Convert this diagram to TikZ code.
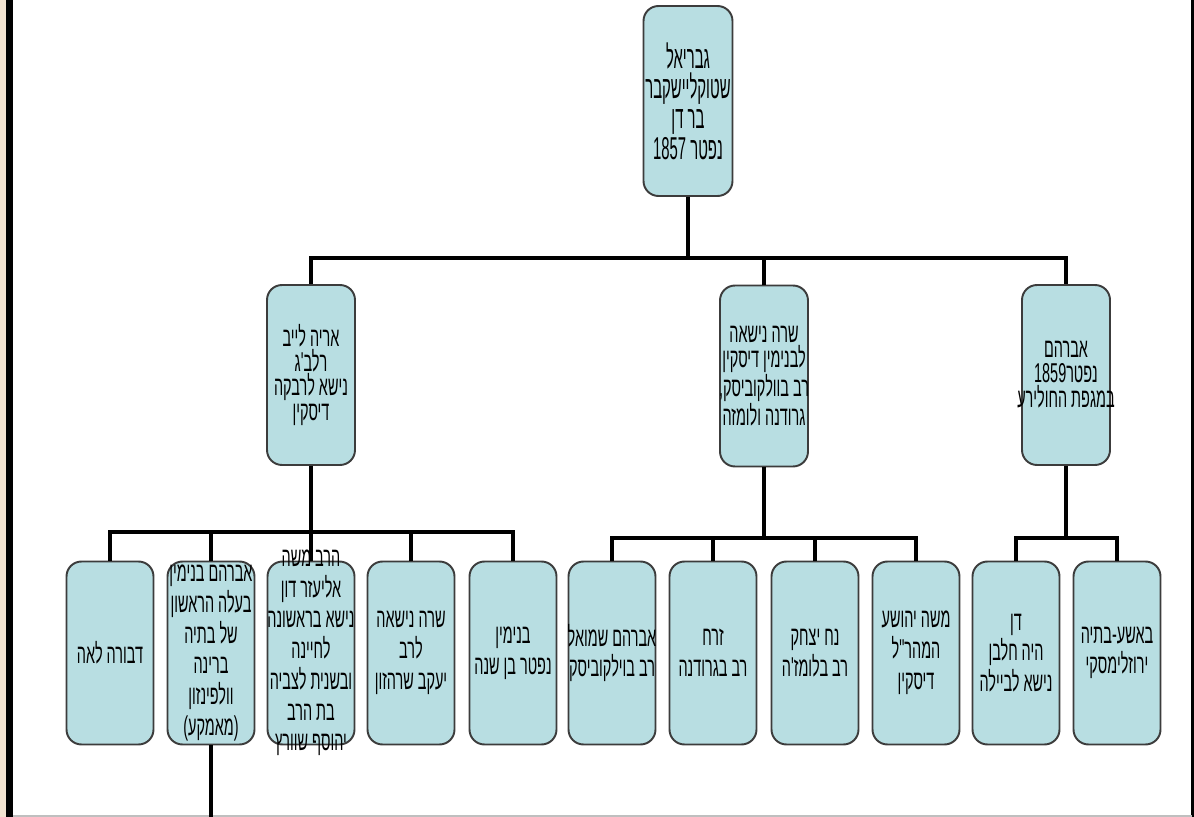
\documentclass[tikz,border=0pt]{standalone}
\usepackage{fontspec}
\usepackage{tikz}
\newfontfamily\hebfont[Script=Hebrew,FakeStretch=0.53]{Liberation Sans}
\newfontfamily\hebtopfont[Script=Hebrew,FakeStretch=0.47]{Liberation Sans}
\TeXXeTstate=1
\newcommand{\heb}[1]{\beginR #1\endR}
\definecolor{boxfill}{RGB}{184,222,226}
\definecolor{boxline}{RGB}{60,60,60}
\definecolor{sidebeige}{RGB}{242,227,208}
\tikzset{
    member/.style={draw=boxline, line width=1.1pt, fill=boxfill, rounded corners=8.5pt,
        minimum width=1.74cm, minimum height=3.66cm, inner sep=0pt},
    names/.style={align=center, inner sep=0pt, font=\hebfont\fontsize{15.5}{17.5}\selectfont},
    midnames/.style={names, font=\hebfont\fontsize{15.5}{14.2}\selectfont},
    topnames/.style={names, font=\hebtopfont\fontsize{18}{17.2}\selectfont},
    bus/.style={line width=2.3pt}
}

\begin{document}
\begin{tikzpicture}[x=0.02cm, y=-0.02cm]
    \useasboundingbox (0,0) rectangle (1194,817);
    \fill[sidebeige] (0,0) rectangle (7,817);
    \fill[black] (6,0) rectangle (13,817);
    \draw[line width=1.2pt] (1192.5,0) -- (1192.5,817);
    \draw[black!25, line width=0.8pt] (13,816) -- (1192,816);

    \node[member, minimum width=1.78cm, minimum height=3.8cm] (gavriel) at (688,101) {};
    \node[topnames] (gavrielt) at (gavriel) {\heb{גבריאל}\\ \heb{שטוקליישקבר}\\ \heb{בר דן}\\ \heb{נפטר \beginL 1857\endL}};

    \node[member, minimum width=1.76cm, minimum height=3.6cm] (arie) at (311,375) {};
    \node[midnames] (ariet) at (arie) {\heb{אריה לייב}\\ \heb{רלב'ג}\\ \heb{נישא לרבקה}\\ \heb{דיסקין}};
    \node[member, minimum width=1.76cm, minimum height=3.62cm] (sara) at (764,376) {};
    \node[midnames] (sarat) at (sara) {\heb{שרה נישאה}\\ \heb{לבנימין דיסקין}\\ \heb{רב בוולקוביסק,}\\ \heb{גרודנה ולומזה}};
    \node[member, minimum width=1.76cm, minimum height=3.6cm] (avraham) at (1066,375) {};
    \node[midnames] (avrahamt) at (avraham) {\heb{אברהם}\\ \heb{נפטר\beginL 1859\endL}\\ \heb{במגפת החולירע}};

    \node[member] (dvora) at (110,653) {};
    \node[names] (dvorat) at (dvora) {\heb{דבורה לאה}};
    \node[member] (avbin) at (211,653) {};
    \node[names] (avbint) at (avbin) {\heb{אברהם בנימין}\\ \heb{בעלה הראשון}\\ \heb{של בתיה}\\ \heb{ברינה}\\ \heb{וולפינזון}\\ )\heb{מאמקע}(};
    \node[member] (moshe) at (311,653) {};
    \node[names] (moshet) at (moshe) {\heb{הרב משה}\\ \heb{אליעזר דון}\\ \heb{נישא בראשונה}\\ \heb{לחיינה}\\ \heb{ובשנית לצביה}\\ \heb{בת הרב}\\ \heb{יהוסף שוורץ}};
    \node[member] (saray) at (411,653) {};
    \node[names] (sarayt) at (saray) {\heb{שרה נישאה}\\ \heb{לרב}\\ \heb{יעקב שרהזון}};
    \node[member] (binyamin) at (513,653) {};
    \node[names] (binyamint) at (binyamin) {\heb{בנימין}\\ \heb{נפטר בן שנה}};

    \node[member] (avshmuel) at (612,653) {};
    \node[names] (avshmuelt) at (avshmuel) {\heb{אברהם שמואל}\\ \heb{רב בוילקוביסק}};
    \node[member] (zerach) at (713,653) {};
    \node[names] (zeracht) at (zerach) {\heb{זרח}\\ \heb{רב בגרודנה}};
    \node[member] (noach) at (815,653) {};
    \node[names] (noacht) at (noach) {\heb{נח יצחק}\\ \heb{רב בלומז'ה}};
    \node[member] (moshey) at (916,653) {};
    \node[names] (mosheyt) at (moshey) {\heb{משה יהושע}\\ \heb{המהר"ל}\\ \heb{דיסקין}};

    \node[member] (dan) at (1016,653) {};
    \node[names] (dant) at (dan) {\heb{דן}\\ \heb{היה חלבן}\\ \heb{נישא לביילה}};
    \node[member] (batsheva) at (1117,653) {};
    \node[names] (batshevat) at (batsheva) {\heb{באשע-בתיה}\\ \heb{ירוזלימסקי}};

    \coordinate (j0) at (688,258);
    \coordinate (j1) at (311,532);
    \coordinate (j2) at (764,538);
    \coordinate (j3) at (1066,538);
    \coordinate (down) at (211,817);

    \draw[bus] (gavriel.south) -- (j0);
    \foreach \k in {arie,sara,avraham}
        \draw[bus] (j0) -| (\k.north);
    \draw[bus] (arie.south) -- (j1);
    \foreach \k in {dvora,avbin,moshe,saray,binyamin}
        \draw[bus] (j1) -| (\k.north);
    \draw[bus] (sara.south) -- (j2);
    \foreach \k in {avshmuel,zerach,noach,moshey}
        \draw[bus] (j2) -| (\k.north);
    \draw[bus] (avraham.south) -- (j3);
    \foreach \k in {dan,batsheva}
        \draw[bus] (j3) -| (\k.north);
    \draw[bus] (avbin.south) -- (down);
\end{tikzpicture}
\end{document}
